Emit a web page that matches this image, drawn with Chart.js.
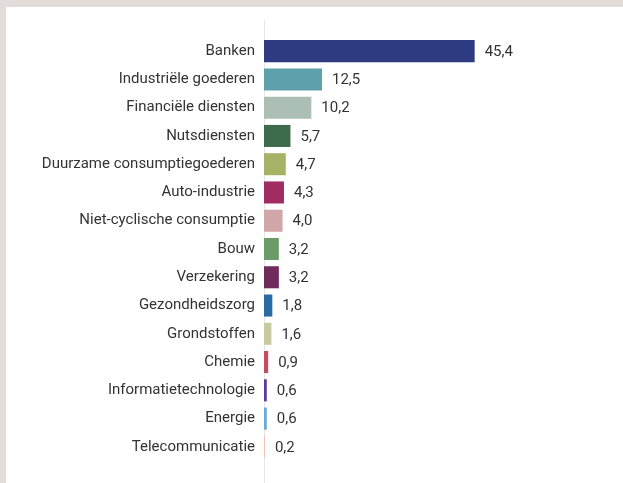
<!DOCTYPE html>
<html lang="nl">
<head>
    <meta charset="UTF-8">
    <title>Sectorverdeling</title>
    <script src="https://cdn.jsdelivr.net/npm/chart.js@4.4.0/dist/chart.umd.min.js"></script>
    <style>
        html, body {
            margin: 0;
            padding: 0;
            background-color: #e2ddd8;
            overflow: hidden;
        }
        .panel {
            position: absolute;
            left: 6px;
            top: 7px;
            width: 617px;
            height: 476px;
            background-color: #ffffff;
        }
        .chart-container {
            position: absolute;
            left: 0;
            top: 0;
            width: 623px;
            height: 483px;
        }
    </style>
</head>
<body>
    <div class="panel"></div>
    <div class="chart-container">
        <canvas id="sectorChart"></canvas>
    </div>

    <script>
        const sectors = [
            'Banken', 'Industriële goederen', 'Financiële diensten', 'Nutsdiensten',
            'Duurzame consumptiegoederen', 'Auto-industrie', 'Niet-cyclische consumptie',
            'Bouw', 'Verzekering', 'Gezondheidszorg', 'Grondstoffen', 'Chemie',
            'Informatietechnologie', 'Energie', 'Telecommunicatie'
        ];
        const weights = [45.4, 12.5, 10.2, 5.7, 4.7, 4.3, 4.0, 3.2, 3.2, 1.8, 1.6, 0.9, 0.6, 0.6, 0.2];
        const barColors = [
            '#2f3b80', '#5fa0ad', '#abbfb6', '#3d6a4b', '#a6b366', '#a12c62', '#d1a6a9',
            '#6b9b67', '#6f2b5b', '#2b6ba3', '#c8caa1', '#c04f60', '#5b3b99', '#6aa9da', '#f1c2b1'
        ];

        const textColor = '#333333';
        const fontFamily = 'Roboto, sans-serif';

        // verticale aslijn, loopt door tot onderkant
        const axisLine = {
            id: 'axisLine',
            beforeDatasetsDraw(chart) {
                const ctx = chart.ctx;
                const x = Math.round(chart.scales.x.getPixelForValue(0)) + 0.5;
                ctx.save();
                ctx.strokeStyle = '#e6e6e6';
                ctx.lineWidth = 1;
                ctx.beginPath();
                ctx.moveTo(x, 20);
                ctx.lineTo(x, chart.height);
                ctx.stroke();
                ctx.restore();
            }
        };

        // waardelabels naast de balken
        const valueLabels = {
            id: 'valueLabels',
            afterDatasetsDraw(chart) {
                const ctx = chart.ctx;
                const meta = chart.getDatasetMeta(0);
                ctx.save();
                ctx.font = '15px ' + fontFamily;
                ctx.fillStyle = textColor;
                ctx.textAlign = 'left';
                ctx.textBaseline = 'middle';
                meta.data.forEach((bar, i) => {
                    const txt = weights[i].toFixed(1).replace('.', ',');
                    ctx.fillText(txt, bar.x + 10, bar.y + 1);
                });
                ctx.restore();
            }
        };

        new Chart(document.getElementById('sectorChart'), {
            type: 'bar',
            data: {
                labels: sectors,
                datasets: [{
                    data: weights,
                    backgroundColor: barColors,
                    borderWidth: 0,
                    categoryPercentage: 1,
                    barPercentage: 0.78
                }]
            },
            options: {
                indexAxis: 'y',
                responsive: true,
                maintainAspectRatio: false,
                animation: false,
                layout: {
                    padding: { top: 37, bottom: 22, left: 0, right: 127 }
                },
                plugins: {
                    legend: { display: false },
                    tooltip: { enabled: false }
                },
                scales: {
                    x: {
                        display: false,
                        min: 0,
                        max: 50
                    },
                    y: {
                        afterFit(scale) { scale.width = 264; },
                        grid: { display: false, drawTicks: false },
                        border: { display: false },
                        ticks: {
                            color: textColor,
                            padding: 9,
                            font: { family: fontFamily, size: 15 }
                        }
                    }
                }
            },
            plugins: [axisLine, valueLabels]
        });
    </script>
</body>
</html>
